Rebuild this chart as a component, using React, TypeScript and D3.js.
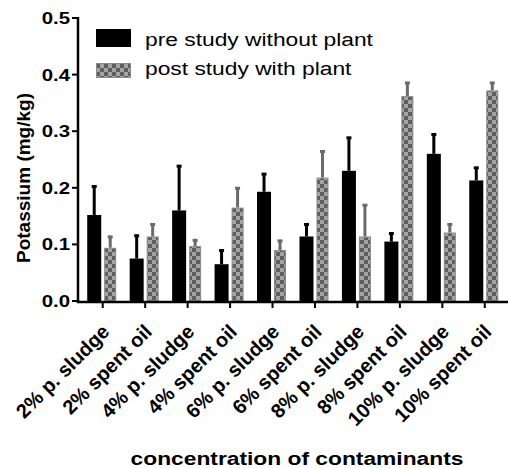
import React from 'react';
import { scaleBand, scaleLinear } from 'd3';

const categories = [
  '2% p. sludge', '2% spent oil', '4% p. sludge', '4% spent oil', '6% p. sludge',
  '6% spent oil', '8% p. sludge', '8% spent oil', '10% p. sludge', '10% spent oil',
];
const preValues = [0.152, 0.075, 0.160, 0.065, 0.193, 0.114, 0.230, 0.105, 0.260, 0.213];
const preErrors = [0.052, 0.042, 0.080, 0.026, 0.033, 0.023, 0.060, 0.016, 0.036, 0.024];
const postValues = [0.094, 0.114, 0.097, 0.165, 0.090, 0.218, 0.114, 0.362, 0.121, 0.372];
const postErrors = [0.021, 0.023, 0.012, 0.036, 0.018, 0.048, 0.057, 0.025, 0.016, 0.015];
const yTicks = [0, 0.1, 0.2, 0.3, 0.4, 0.5];
const seriesNames = ['pre study without plant', 'post study with plant'];

const W = 508;
const H = 468;
const SX = 1.2; // horizontal text in the source image is stretched sideways

export default function App() {
  const x = scaleBand<string>().domain(categories).range([81.5, 506]);
  const y = scaleLinear().domain([0, 0.5]).range([301, 18]);
  const bw = x.bandwidth();
  const axisX = 78;
  const axisY = y(0) + 1;

  const errBar = (cx: number, v: number, e: number, color: string, key: string) => (
    <g key={key} stroke={color} strokeWidth={3}>
      <line x1={cx} x2={cx} y1={y(v)} y2={y(v + e)} />
      <line x1={cx - 2.5} x2={cx + 2.5} y1={y(v + e) + 1} y2={y(v + e) + 1} />
    </g>
  );

  return (
    <svg width={W} height={H} style={{ position: 'absolute', left: 0, top: 0, fontFamily: 'Liberation Sans, Arial, sans-serif' }}>
      <defs>
        <pattern id="check" width={8} height={8} patternUnits="userSpaceOnUse">
          <rect width={8} height={8} fill="#a4a4a4" />
          <rect width={4} height={4} fill="#5e5e5e" />
          <rect x={4} y={4} width={4} height={4} fill="#5e5e5e" />
        </pattern>
      </defs>
      <rect width={W} height={H} fill="#fff" />

      {categories.map((c, i) => {
        const cx = (x(c) as number) + bw / 2;
        const bx = cx - 15.5;
        const gx = cx + 1.5;
        return (
          <g key={c}>
            {errBar(bx + 7, preValues[i], preErrors[i], '#000', 'pe')}
            {errBar(gx + 6, postValues[i], postErrors[i], '#6a6a6a', 'ge')}
            <rect x={bx} y={y(preValues[i])} width={14} height={y(0) - y(preValues[i])} fill="#000" />
            <rect x={gx + 0.5} y={y(postValues[i]) + 0.5} width={11} height={y(0) - y(postValues[i]) - 0.5}
              fill="url(#check)" stroke="#8a8a8a" strokeWidth={1} />
          </g>
        );
      })}

      {/* y axis */}
      <line x1={axisX} x2={axisX} y1={y(0.5) - 1} y2={axisY + 1} stroke="#000" strokeWidth={2.5} />
      {yTicks.map((t) => (
        <g key={t}>
          <line x1={axisX - 6} x2={axisX} y1={y(t)} y2={y(t)} stroke="#000" strokeWidth={2} />
          <g transform={`translate(${axisX - 8},${y(t) + 6}) scale(${SX},1)`}>
            <text textAnchor="end" fontSize={17} fontWeight="bold">{t.toFixed(1)}</text>
          </g>
        </g>
      ))}
      <text transform={`translate(30,178) rotate(-90)`} textAnchor="middle" fontSize={19} fontWeight="bold">
        Potassium (mg/kg)
      </text>

      {/* x axis */}
      <line x1={axisX - 1} x2={W} y1={axisY} y2={axisY} stroke="#000" strokeWidth={2.5} />
      {categories.map((c) => {
        const cx = (x(c) as number) + bw / 2;
        return (
          <g key={c}>
            <line x1={cx} x2={cx} y1={axisY} y2={axisY + 6} stroke="#000" strokeWidth={2} />
            <text transform={`translate(${cx + 8},${axisY + 31}) rotate(-45)`}
              textAnchor="end" fontSize={20} fontWeight="bold">{c}</text>
          </g>
        );
      })}
      <g transform={`translate(297,465) scale(${SX},1)`}>
        <text textAnchor="middle" fontSize={19} fontWeight="bold">concentration of contaminants</text>
      </g>

      {/* legend */}
      <rect x={96} y={29} width={35} height={18} fill="#000" />
      <rect x={96.5} y={63.5} width={34} height={14} fill="url(#check)" stroke="#8a8a8a" />
      {seriesNames.map((s, i) => (
        <g key={s} transform={`translate(145,${46 + i * 29}) scale(${SX},1)`}>
          <text fontSize={19}>{s}</text>
        </g>
      ))}
    </svg>
  );
}
